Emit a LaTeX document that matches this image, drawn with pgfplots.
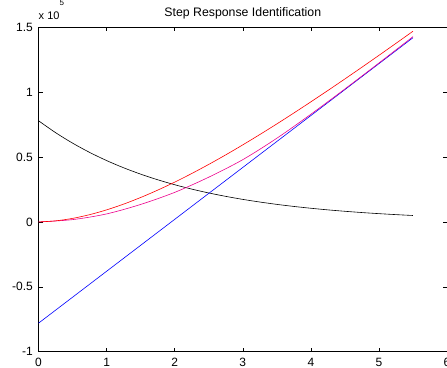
\documentclass[border=0pt]{standalone}
\usepackage{pgfplots}
\pgfplotsset{compat=1.18}
\usepackage{fontspec}
\setmainfont{Liberation Sans}
\begin{document}
\begin{tikzpicture}[trim axis right]
\begin{axis}[
 width=408pt, height=324pt, scale only axis,
 xmin=0, xmax=6, ymin=-1, ymax=1.5,
 xtick={0,1,2,3,4,5,6},
 ytick={-1,-0.5,0,0.5,1,1.5},
 yticklabels={-1,-0.5,0,0.5,1,1.5},
 xticklabels={0,1,2,3,4,5,6},
 tick align=inside, major tick length=4pt,
 tick style={black, line width=0.5pt},
 axis line style={line width=0.6pt},
 title={Step Response Identification},
 every axis title shift=0pt,
 title style={font=\fontsize{12.3}{14}\selectfont, at={(0.5,1)}, anchor=base, yshift=10.5pt, inner sep=0pt},
 ticklabel style={font=\fontsize{12}{14}\selectfont, inner sep=0pt},
 yticklabel style={anchor=east, xshift=-5.5pt},
 xticklabel style={anchor=north, yshift=-6pt, text depth=1.5pt},
 /pgf/number format/assume math mode=true,
 clip=false,
]
\addplot[black, line width=0.6pt, smooth] coordinates {
(0,0.78)(0.25,0.6884)(0.5,0.6075)(0.75,0.5361)(1,0.4731)(1.25,0.4175)(1.5,0.3685)(1.75,0.3252)(2,0.2869)(2.25,0.2532)(2.5,0.2235)(2.75,0.1972)(3,0.1740)(3.25,0.1536)(3.5,0.1355)(3.75,0.1196)(4,0.1056)(4.25,0.0931)(4.5,0.0822)(4.75,0.0725)(5,0.0640)(5.25,0.0565)(5.5,0.0498)};
\addplot[blue, line width=0.6pt] coordinates {(0,-0.78)(5.5,1.42)};
\addplot[magenta, line width=0.6pt, smooth] coordinates {
(0,0)(0.5,0.018)(1,0.062)(1.5,0.135)(2,0.228)(2.5,0.345)(3,0.48)(3.5,0.645)(4,0.83)(4.5,1.025)(5,1.225)(5.5,1.428)};
\addplot[red, line width=0.6pt, smooth] coordinates {
(0,0)(0.25,0.0084)(0.5,0.0275)(0.75,0.0561)(1,0.0931)(1.25,0.1375)(1.5,0.1885)(1.75,0.2452)(2,0.3069)(2.25,0.3732)(2.5,0.4435)(2.75,0.5172)(3,0.5940)(3.25,0.6736)(3.5,0.7555)(3.75,0.8396)(4,0.9256)(4.25,1.0131)(4.5,1.1022)(4.75,1.1925)(5,1.2840)(5.25,1.3765)(5.5,1.4698)};
\node[anchor=base west, inner sep=0pt, font=\fontsize{11}{12}\selectfont] at ([yshift=8.3pt]rel axis cs:0,1) {x 10\raisebox{13.5pt}{\fontsize{8}{8}\selectfont 5}};
\path ([xshift=-38.5pt]rel axis cs:0,0) -- ([xshift=-38.5pt]rel axis cs:0,1);
\end{axis}
\end{tikzpicture}
\end{document}
